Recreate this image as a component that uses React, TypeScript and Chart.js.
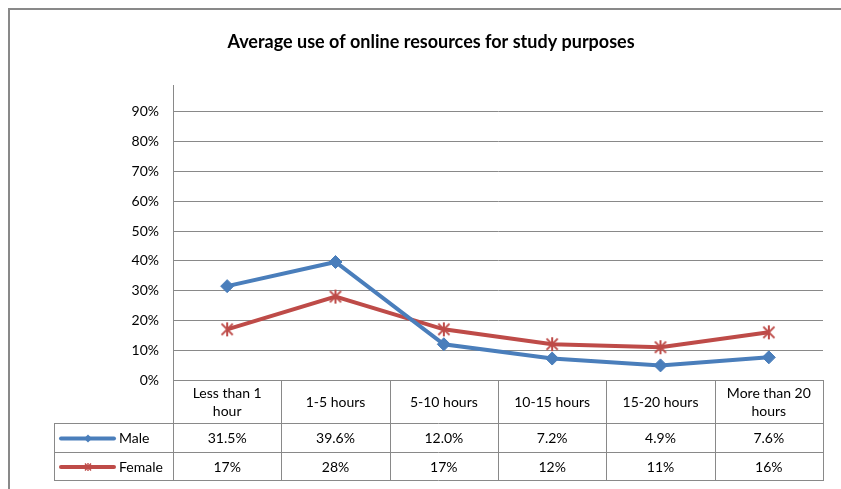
import React, { useEffect, useRef } from 'react';
import { Chart, registerables } from 'chart.js';

Chart.register(...registerables);

const chartTitle = 'Average use of online resources for study purposes';
const categories = ['Less than 1 hour', '1-5 hours', '5-10 hours', '10-15 hours', '15-20 hours', 'More than 20 hours'];
const seriesNames = ['Male', 'Female'];
const maleValues = [0.315, 0.396, 0.12, 0.072, 0.049, 0.076];
const femaleValues = [0.17, 0.28, 0.17, 0.12, 0.11, 0.16];
const maleLabels = ['31.5%', '39.6%', '12.0%', '7.2%', '4.9%', '7.6%'];
const femaleLabels = ['17%', '28%', '17%', '12%', '11%', '16%'];
const yTickValues = [0, 0.1, 0.2, 0.3, 0.4, 0.5, 0.6, 0.7, 0.8, 0.9];

const FONT = 'Lato, "Noto Sans", sans-serif';
const GRID = '#898989';
const BLUE = '#4A7EBB';
const RED = '#BE4B48';

function makeStar(size: number, color: string, lw: number) {
  const c = document.createElement('canvas');
  c.width = size;
  c.height = size;
  const ctx = c.getContext('2d')!;
  ctx.strokeStyle = color;
  ctx.lineWidth = lw;
  const h = size / 2;
  const r = h - 1;
  const d = r * 0.8;
  ctx.beginPath();
  ctx.moveTo(h - d, h - d);
  ctx.lineTo(h + d, h + d);
  ctx.moveTo(h + d, h - d);
  ctx.lineTo(h - d, h + d);
  ctx.moveTo(h, h - r);
  ctx.lineTo(h, h + r);
  ctx.stroke();
  return c;
}

function wrap(ctx: CanvasRenderingContext2D, text: string, maxW: number) {
  const words = text.split(' ');
  const lines: string[] = [];
  let cur = '';
  for (const w of words) {
    const t = cur ? cur + ' ' + w : w;
    if (ctx.measureText(t).width > maxW && cur) {
      lines.push(cur);
      cur = w;
    } else cur = t;
  }
  if (cur) lines.push(cur);
  return lines;
}

const tablePlugin = {
  id: 'dataTable',
  beforeDraw(chart: any) {
    const ctx = chart.ctx as CanvasRenderingContext2D;
    ctx.save();
    ctx.fillStyle = '#fff';
    ctx.fillRect(0, 0, chart.width, chart.height);
    ctx.strokeStyle = GRID;
    ctx.lineWidth = 2;
    ctx.strokeRect(9, 9, chart.width + 40, chart.height + 40);
    ctx.fillStyle = '#000';
    ctx.font = `bold 18px ${FONT}`;
    ctx.textAlign = 'center';
    ctx.textBaseline = 'middle';
    ctx.fillText(chartTitle, 431, 42);
    ctx.restore();
  },
  afterDraw(chart: any) {
    const ctx = chart.ctx as CanvasRenderingContext2D;
    const { left, right, bottom } = chart.chartArea;
    const n = categories.length;
    const cw = (right - left) / n;
    const r0 = Math.round(bottom);
    const r1 = r0 + 43;
    const r2 = r1 + 29;
    const r3 = r2 + 28;
    const legLeft = 54;
    ctx.save();
    ctx.strokeStyle = GRID;
    ctx.lineWidth = 1;
    const hl = (x1: number, x2: number, y: number) => {
      ctx.beginPath();
      ctx.moveTo(x1, y + 0.5);
      ctx.lineTo(x2, y + 0.5);
      ctx.stroke();
    };
    const vl = (x: number, y1: number, y2: number) => {
      const xx = Math.round(x) + 0.5;
      ctx.beginPath();
      ctx.moveTo(xx, y1);
      ctx.lineTo(xx, y2 + 1);
      ctx.stroke();
    };
    hl(left, right, r0);
    hl(legLeft, right, r1);
    hl(legLeft, right, r2);
    hl(legLeft, right, r3);
    vl(legLeft, r1, r3);
    for (let i = 0; i <= n; i++) vl(left + i * cw, r0, r3);

    ctx.fillStyle = '#000';
    ctx.font = `14px ${FONT}`;
    ctx.textAlign = 'center';
    ctx.textBaseline = 'middle';
    const xs = chart.scales.x;
    categories.forEach((cat, i) => {
      const cx = xs.getPixelForValue(i);
      const lines = wrap(ctx, cat, 92);
      const lh = 18;
      const cy = (r0 + r1) / 2 + 1;
      lines.forEach((ln, j) => {
        ctx.fillText(ln, cx, cy + (j - (lines.length - 1) / 2) * lh);
      });
      ctx.fillText(maleLabels[i], cx, (r1 + r2) / 2 + 1);
      ctx.fillText(femaleLabels[i], cx, (r2 + r3) / 2 + 1);
    });

    // legend keys
    const rows = [
      { y: (r1 + r2) / 2 + 1, color: BLUE, name: seriesNames[0], diamond: true },
      { y: (r2 + r3) / 2 + 1, color: RED, name: seriesNames[1], diamond: false },
    ];
    rows.forEach((r) => {
      ctx.strokeStyle = r.color;
      ctx.lineWidth = 4;
      ctx.lineCap = 'round';
      ctx.beginPath();
      ctx.moveTo(61, r.y);
      ctx.lineTo(114, r.y);
      ctx.stroke();
      if (r.diamond) {
        ctx.fillStyle = r.color;
        ctx.beginPath();
        ctx.moveTo(88 - 4, r.y);
        ctx.lineTo(88, r.y - 4);
        ctx.lineTo(88 + 4, r.y);
        ctx.lineTo(88, r.y + 4);
        ctx.closePath();
        ctx.fill();
      } else {
        ctx.lineWidth = 1.4;
        ctx.lineCap = 'butt';
        ctx.beginPath();
        ctx.moveTo(85, r.y - 3.5);
        ctx.lineTo(91, r.y + 3.5);
        ctx.moveTo(91, r.y - 3.5);
        ctx.lineTo(85, r.y + 3.5);
        ctx.moveTo(88, r.y - 4);
        ctx.lineTo(88, r.y + 4);
        ctx.stroke();
      }
      ctx.fillStyle = '#000';
      ctx.textAlign = 'left';
      ctx.fillText(r.name, 119, r.y);
    });
    ctx.restore();
  },
};

export default function App() {
  const ref = useRef<HTMLCanvasElement>(null);
  useEffect(() => {
    if (!ref.current) return;
    const star = makeStar(16, RED, 2);
    const chart = new Chart(ref.current, {
      type: 'line',
      data: {
        labels: categories,
        datasets: [
          {
            label: seriesNames[0],
            data: maleValues,
            borderColor: BLUE,
            backgroundColor: BLUE,
            borderWidth: 4,
            pointStyle: 'rectRot',
            pointRadius: 6.5,
            pointBorderWidth: 1,
            pointBackgroundColor: BLUE,
            pointBorderColor: BLUE,
            tension: 0,
          },
          {
            label: seriesNames[1],
            data: femaleValues,
            borderColor: RED,
            backgroundColor: RED,
            borderWidth: 4,
            pointStyle: star as any,
            pointRadius: 7,
            tension: 0,
          },
        ],
      },
      options: {
        responsive: false,
        animation: false,
        layout: { padding: { left: 0, top: 85, right: 18, bottom: 109 } },
        plugins: {
          legend: { display: false },
          title: { display: false },
          tooltip: { enabled: false },
        },
        scales: {
          x: {
            display: false,
            offset: true,
          },
          y: {
            min: 0,
            max: 0.99,
            afterBuildTicks: (s: any) => {
              s.ticks = yTickValues.map((v) => ({ value: v }));
            },
            afterFit: (s: any) => {
              s.width = 173;
            },
            ticks: {
              callback: (v: any) => Math.round(Number(v) * 100) + '%',
              padding: 14,
              color: '#000',
              font: { family: FONT, size: 14 },
            },
            grid: { color: GRID, drawTicks: false, lineWidth: 1 },
            border: { color: GRID, width: 1 },
          },
        },
      },
      plugins: [tablePlugin],
    });
    return () => chart.destroy();
  }, []);
  return (
    <div style={{ position: 'absolute', left: 0, top: 0, width: 841, height: 489 }}>
      <canvas ref={ref} width={841} height={489} style={{ display: 'block' }} />
    </div>
  );
}
